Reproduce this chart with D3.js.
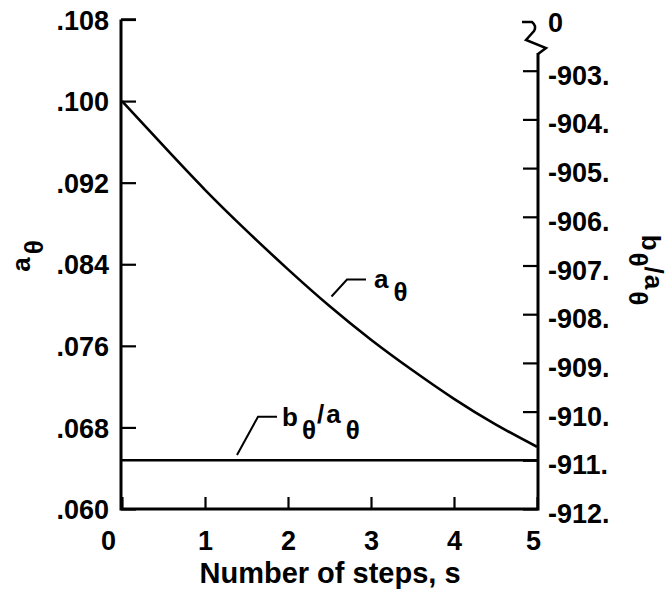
<!DOCTYPE html>
<html><head><meta charset="utf-8">
<script src="https://cdn.jsdelivr.net/npm/d3@7"></script>
<style>body{margin:0;background:#fff}svg{display:block}text{font-family:"Liberation Sans",Arial,Helvetica,sans-serif;font-weight:bold;fill:#000}</style>
</head><body>
<svg id="c" width="671" height="592"></svg>
<script>
// data
const steps = [0, 0.5, 1, 1.5, 2, 2.5, 3, 3.5, 4, 4.5, 5];
const aTheta = [0.1000, 0.0956, 0.0913, 0.0873, 0.0835, 0.0799, 0.0766, 0.0736, 0.0708, 0.0683, 0.0661];
const ratioSteps = [0, 1, 2, 3, 4, 5];
const bOverA = [-911.0, -911.0, -911.0, -911.0, -911.0, -911.0];
const xTicks = [0, 1, 2, 3, 4, 5];
const leftTicks = [0.060, 0.068, 0.076, 0.084, 0.092, 0.100, 0.108];
const rightTicks = [-912, -911, -910, -909, -908, -907, -906, -905, -904, -903];

const svg = d3.select("#c");
const x = d3.scaleLinear().domain([0, 5]).range([122, 537]);
const yL = d3.scaleLinear().domain([0.060, 0.108]).range([509, 19.5]);
const yR = d3.scaleLinear().domain([-912, -902]).range([509, 22]);

const X0 = 121, X1 = 538, Y0 = 509;

// left axis
const gl = svg.append("g").attr("transform", `translate(${X0},0)`)
  .call(d3.axisLeft(yL).tickValues(leftTicks).tickSize(-15).tickPadding(12)
    .tickFormat(d => d3.format(".3f")(d).replace(/^0/, "")));
gl.select(".domain").remove();
gl.selectAll(".tick line").attr("stroke", "#000").attr("stroke-width", 2.2);
gl.selectAll(".tick text").attr("font-size", 27).attr("dy", "0.36em");

// right axis
const gr = svg.append("g").attr("transform", `translate(${X1},0)`)
  .call(d3.axisRight(yR).tickValues(rightTicks).tickSize(-15).tickPadding(10)
    .tickFormat(d => String(d) + "."));
gr.select(".domain").remove();
gr.selectAll(".tick line").attr("stroke", "#000").attr("stroke-width", 2.2);
gr.selectAll(".tick text").attr("font-size", 27).attr("dy", "0.5em");

// bottom axis
const gb = svg.append("g").attr("transform", `translate(0,${Y0})`)
  .call(d3.axisBottom(x).tickValues(xTicks).tickSize(-12).tickPadding(22)
    .tickFormat(d => String(d)));
gb.select(".domain").remove();
gb.selectAll(".tick line").attr("stroke", "#000").attr("stroke-width", 2.2);
gb.selectAll(".tick text").attr("font-size", 27)
  .attr("dx", d => d === 0 ? -14 : (d === 5 ? -4 : 0));

// axis frame lines
const ax = svg.append("g").attr("stroke", "#000").attr("stroke-width", 3).attr("fill", "none");
ax.append("path").attr("d", `M${X0},${yL(0.108)}V${Y0}H${X1}V53`);
ax.append("line").attr("x1", X0).attr("x2", X0 + 15).attr("y1", yL(0.108)).attr("y2", yL(0.108)).attr("stroke-width", 2.5);
// axis break on right
ax.append("path").attr("stroke-width", 2.5)
  .attr("d", `M522,${yR(-902)}L532,${yR(-902)}Q537,26 534,31L526,40L546,48L538,54`);
svg.append("text").attr("x", 548).attr("y", yR(-902)).attr("dy", "0.36em").attr("font-size", 27).text("0");

// series
svg.append("path").datum(steps.map((s, i) => [s, aTheta[i]]))
  .attr("fill", "none").attr("stroke", "#000").attr("stroke-width", 2.6)
  .attr("d", d3.line().x(d => x(d[0])).y(d => yL(d[1])).curve(d3.curveNatural));
svg.append("path").datum(ratioSteps.map((s, i) => [s, bOverA[i]]))
  .attr("fill", "none").attr("stroke", "#000").attr("stroke-width", 2.6)
  .attr("d", d3.line().x(d => x(d[0])).y(d => yR(d[1])));

// annotations
const lead = svg.append("g").attr("stroke", "#000").attr("stroke-width", 2).attr("fill", "none");
lead.append("path").attr("d", "M331.5,296.5L347,279.5H366");
lead.append("path").attr("d", "M237,455L258,416.7H277");
function subLabel(xp, yp, parts, rot) {
  const t = svg.append("text").attr("font-size", 26)
    .attr("transform", `translate(${xp},${yp})` + (rot ? ` rotate(${rot})` : ""));
  if (rot) t.attr("text-anchor", "middle");
  parts.forEach(p => {
    t.append("tspan").attr("dy", p.dy).attr("dx", p.dx || 0).text(p.t);
  });
  return t;
}
subLabel(374, 288, [{t: "a", dy: 0}, {t: "θ", dy: 13, dx: 5}]);
subLabel(282, 426, [{t: "b", dy: 0}, {t: "θ", dy: 13, dx: 4}, {t: "/", dy: -16, dx: 1}, {t: "a", dy: 0, dx: 2}, {t: "θ", dy: 16, dx: 5}]);

// axis titles
subLabel(30, 256, [{t: "a", dy: 0}, {t: "θ", dy: 13, dx: 3}], -90);
subLabel(642, 270, [{t: "b", dy: 0}, {t: "θ", dy: 13, dx: 2}, {t: "/", dy: -16, dx: 0}, {t: "a", dy: 0, dx: 1}, {t: "θ", dy: 16, dx: 2}], 90);

svg.append("text").attr("x", 330).attr("y", 583).attr("text-anchor", "middle")
  .attr("font-size", 29).text("Number of steps, s");
</script>
</body></html>
